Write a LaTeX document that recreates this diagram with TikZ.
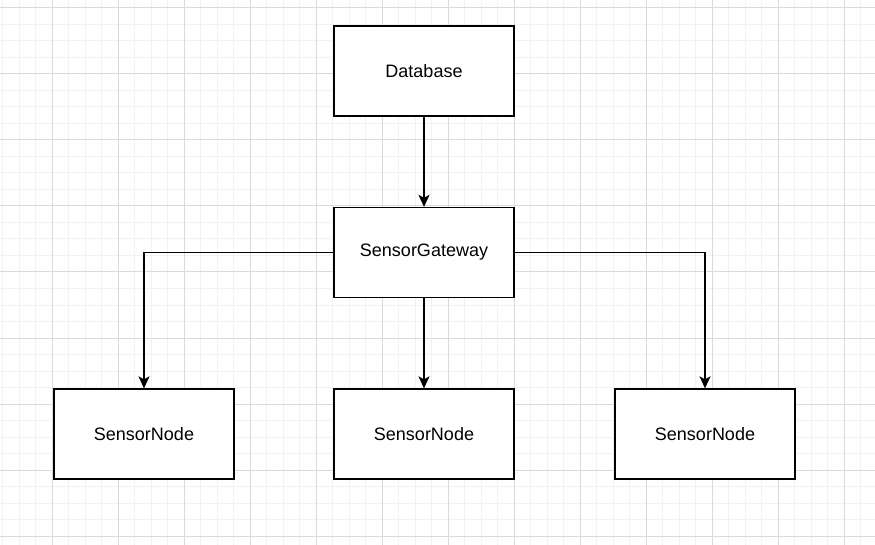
\documentclass[tikz,border=0pt]{standalone}
\usepackage{fontspec}
\setmainfont{Liberation Sans}
\usetikzlibrary{arrows.meta}
\definecolor{gridminor}{RGB}{242,242,242}
\definecolor{gridmajor}{RGB}{218,218,218}
\tikzset{
  box/.style={draw=black, fill=white, line width=1.3pt, minimum width=180pt, minimum height=90pt, inner sep=0pt, font=\fontsize{18pt}{21pt}\selectfont},
  conn/.style={draw=black, line width=1.3pt, -{Stealth[length=12pt,width=11pt,inset=3pt]}}
}
\begin{document}
\begin{tikzpicture}[x=1pt,y=-1pt]
\useasboundingbox (0,0) rectangle (875,545);
\fill[white] (0,0) rectangle (875,545);
% minor grid
\foreach \i in {0,...,52} {\draw[gridminor, line width=1pt] ({2.8+16.5*\i},0) -- ({2.8+16.5*\i},545);}
\foreach \j in {0,...,32} {\draw[gridminor, line width=1pt] (0,{8+16.5*\j}) -- (875,{8+16.5*\j});}
% major grid
\foreach \i in {0,...,12} {\draw[gridmajor, line width=1pt] ({52.3+66*\i},0) -- ({52.3+66*\i},545);}
\foreach \j in {0,...,8} {\draw[gridmajor, line width=1pt] (0,{8+66*\j}) -- (875,{8+66*\j});}
% nodes
\node[box] (db) at (424,71) {Database};
\node[box] (gw) at (424,252.5) {SensorGateway};
\node[box] (n1) at (144,434) {SensorNode};
\node[box] (n2) at (424,434) {SensorNode};
\node[box] (n3) at (705,434) {SensorNode};
% connectors
\draw[conn] (db.south) -- (gw.north);
\draw[conn] (gw.west) -| (n1.north);
\draw[conn] (gw.south) -- (n2.north);
\draw[conn] (gw.east) -| (n3.north);
\end{tikzpicture}
\end{document}
